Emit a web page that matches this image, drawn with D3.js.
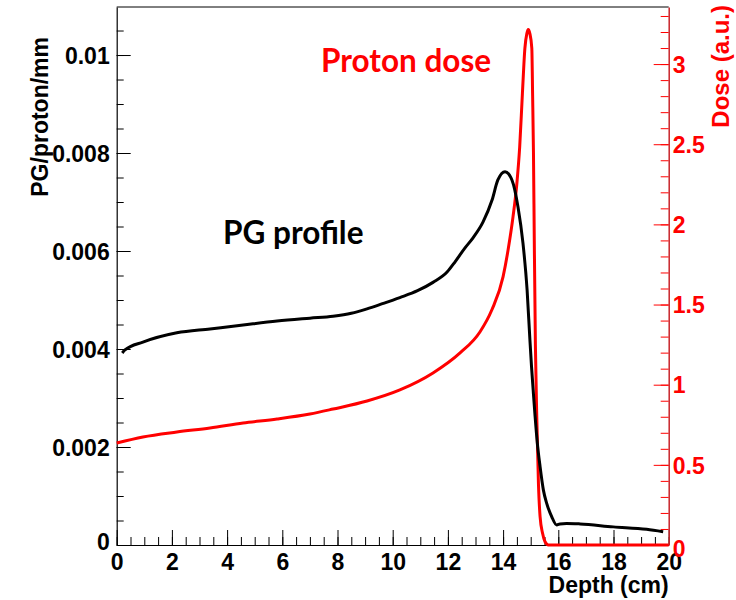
<!DOCTYPE html>
<html>
<head>
  <meta charset="utf-8">
  <title>PG profile and proton dose vs depth</title>
  <style>
    body { margin: 0; background: #fff; }
    svg text { font-family: "Liberation Sans", Arial, sans-serif; font-weight: bold; }
    .annot { font-family: Lato, "Open Sans", sans-serif; font-weight: bold; }
  </style>
</head>
<body>
  <div id="chart-container"></div>
  <script src="https://cdn.jsdelivr.net/npm/d3@7"></script>
  <script>
    // PG profile (left axis, PG/proton/mm)
    const pgDepth = [0.2, 0.3, 0.95, 2.18, 3.38, 4.58, 5.81, 7.0, 7.84, 8.5, 9.07, 9.6, 10.26, 10.9, 11.46, 11.97, 12.26, 12.6, 12.91, 13.27, 13.6, 13.81, 14.07, 14.32, 14.54, 14.72, 14.87, 14.97, 15.03, 15.09, 15.16, 15.24, 15.34, 15.46, 15.58, 15.76, 15.94, 16.06, 16.3, 16.79, 17.99, 19.2, 19.8];
    const pgValue = [0.00392, 0.00398, 0.00414, 0.00433, 0.00441, 0.00449, 0.00457, 0.00463, 0.00467, 0.00473, 0.00482, 0.00492, 0.00505, 0.00519, 0.00536, 0.00557, 0.00578, 0.00605, 0.00627, 0.00659, 0.00704, 0.00745, 0.00762, 0.00745, 0.0069, 0.00616, 0.0052, 0.0042, 0.00364, 0.00316, 0.00262, 0.00208, 0.0016, 0.00112, 0.00085, 0.00058, 0.00041, 0.00043, 0.00044, 0.00043, 0.00037, 0.00032, 0.00027];

    // proton dose (right axis, a.u.)
    const doseDepth = [0, 0.95, 2.18, 3.38, 4.58, 5.81, 7.0, 7.84, 9.07, 10.26, 11.46, 12.44, 13.16, 13.59, 14.0, 14.18, 14.36, 14.5, 14.6, 14.7, 14.79, 14.86, 14.91, 14.97, 15.04, 15.07, 15.1, 15.13, 15.17, 15.22, 15.28, 15.34, 15.43, 15.52, 15.64, 20];
    const doseValue = [0.636, 0.674, 0.705, 0.73, 0.761, 0.786, 0.817, 0.848, 0.898, 0.967, 1.073, 1.198, 1.329, 1.466, 1.674, 1.84, 2.048, 2.258, 2.48, 2.818, 3.1, 3.19, 3.215, 3.19, 3.1, 2.8, 2.45, 1.9, 1.25, 0.8, 0.385, 0.177, 0.073, 0.02, 0, 0];

    const xTicks = [0, 2, 4, 6, 8, 10, 12, 14, 16, 18, 20];
    const leftTicks = [0, 0.002, 0.004, 0.006, 0.008, 0.01];
    const leftTickLabels = ['0', '0.002', '0.004', '0.006', '0.008', '0.01'];
    const rightTicks = [0, 0.5, 1, 1.5, 2, 2.5, 3];
    const rightTickLabels = ['0', '0.5', '1', '1.5', '2', '2.5', '3'];

    const width = 736;
    const height = 600;
    const margin = { top: 7, right: 67.3, bottom: 55, left: 116.7 };
    const innerWidth = width - margin.left - margin.right;
    const innerHeight = height - margin.top - margin.bottom;

    const svg = d3.select('#chart-container')
      .append('svg')
      .attr('width', width)
      .attr('height', height);

    const g = svg.append('g')
      .attr('transform', `translate(${margin.left},${margin.top})`);

    const xScale = d3.scaleLinear().domain([0, 20]).range([0, innerWidth]);
    const yLeft = d3.scaleLinear().domain([0, 0.01098]).range([innerHeight, 0]);
    const yRight = d3.scaleLinear().domain([0, 3.356]).range([innerHeight, 0]);

    const red = '#ff0000';
    const tickFont = 23;

    // top border
    g.append('line')
      .attr('x1', 0).attr('x2', innerWidth)
      .attr('y1', 0).attr('y2', 0)
      .attr('stroke', '#000').attr('stroke-width', 1);

    // minor ticks
    g.append('g')
      .attr('transform', `translate(0,${innerHeight})`)
      .call(d3.axisBottom(xScale).tickValues(d3.range(0, 20.01, 0.5)).tickSize(-8).tickFormat(''))
      .call(a => a.select('.domain').remove());
    g.append('g')
      .call(d3.axisLeft(yLeft).tickValues(d3.range(0, 0.01099, 0.0005)).tickSize(-7).tickFormat(''))
      .call(a => a.select('.domain').remove());
    g.append('g')
      .attr('transform', `translate(${innerWidth},0)`)
      .call(d3.axisRight(yRight).tickValues(d3.range(0, 3.36, 0.1)).tickSize(-8).tickFormat(''))
      .call(a => a.select('.domain').remove())
      .call(a => a.selectAll('line').attr('stroke', red));

    // major axes
    const xAxis = g.append('g')
      .attr('transform', `translate(0,${innerHeight})`)
      .call(d3.axisBottom(xScale).tickValues(xTicks).tickSize(-15).tickPadding(5).tickSizeOuter(0));
    xAxis.selectAll('text').attr('font-size', tickFont).attr('fill', '#000').attr('dy', '0.85em');
    xAxis.select('.domain').attr('stroke-width', 1.2);

    const leftAxis = g.append('g')
      .call(d3.axisLeft(yLeft).tickValues(leftTicks).tickSize(-14).tickSizeOuter(0).tickPadding(7)
        .tickFormat((d, i) => leftTickLabels[i]));
    leftAxis.selectAll('text').attr('font-size', tickFont).attr('fill', '#000').attr('dy', '0.36em');
    leftAxis.select('.domain').attr('stroke-width', 1.2);

    const rightAxis = g.append('g')
      .attr('transform', `translate(${innerWidth},0)`)
      .call(d3.axisRight(yRight).tickValues(rightTicks).tickSize(-15).tickSizeOuter(0).tickPadding(4)
        .tickFormat((d, i) => rightTickLabels[i]));
    rightAxis.selectAll('line').attr('stroke', red);
    rightAxis.selectAll('text').attr('font-size', tickFont).attr('fill', red).attr('dy', '0.36em');
    rightAxis.select('.domain').attr('stroke', '#c8242a').attr('stroke-width', 1.5);

    // the two "0" labels sit a little lower, like the original
    leftAxis.selectAll('.tick').filter(d => d === 0).select('text').attr('dy', '0.2em');
    rightAxis.selectAll('.tick').filter(d => d === 0).select('text').attr('dy', '0.5em');

    // curves
    const pgLine = d3.line()
      .x((d, i) => xScale(pgDepth[i]))
      .y(d => yLeft(d))
      .curve(d3.curveMonotoneX);

    const doseLine = d3.line()
      .x((d, i) => xScale(doseDepth[i]))
      .y(d => yRight(d))
      .curve(d3.curveMonotoneX);

    g.append('path')
      .datum(doseValue)
      .attr('fill', 'none')
      .attr('stroke', red)
      .attr('stroke-width', 3)
      .attr('d', doseLine);

    g.append('path')
      .datum(pgValue)
      .attr('fill', 'none')
      .attr('stroke', '#000')
      .attr('stroke-width', 3)
      .attr('d', pgLine);

    // axis titles
    svg.append('text')
      .attr('text-anchor', 'end')
      .attr('x', margin.left + innerWidth)
      .attr('y', 593)
      .attr('font-size', 23)
      .text('Depth (cm)');

    svg.append('text')
      .attr('text-anchor', 'end')
      .attr('transform', 'translate(48,37) rotate(-90)')
      .attr('font-size', 23)
      .text('PG/proton/mm');

    svg.append('text')
      .attr('text-anchor', 'end')
      .attr('transform', 'translate(729,5) rotate(-90)')
      .attr('font-size', 24)
      .attr('fill', red)
      .text('Dose (a.u.)');

    // annotations
    svg.append('text')
      .attr('class', 'annot')
      .attr('x', 321)
      .attr('y', 72)
      .attr('font-size', 31.5)
      .attr('fill', red)
      .text('Proton dose');

    svg.append('text')
      .attr('class', 'annot')
      .attr('x', 223)
      .attr('y', 244)
      .attr('font-size', 31.5)
      .attr('fill', '#000')
      .text('PG profile');
  </script>
</body>
</html>
